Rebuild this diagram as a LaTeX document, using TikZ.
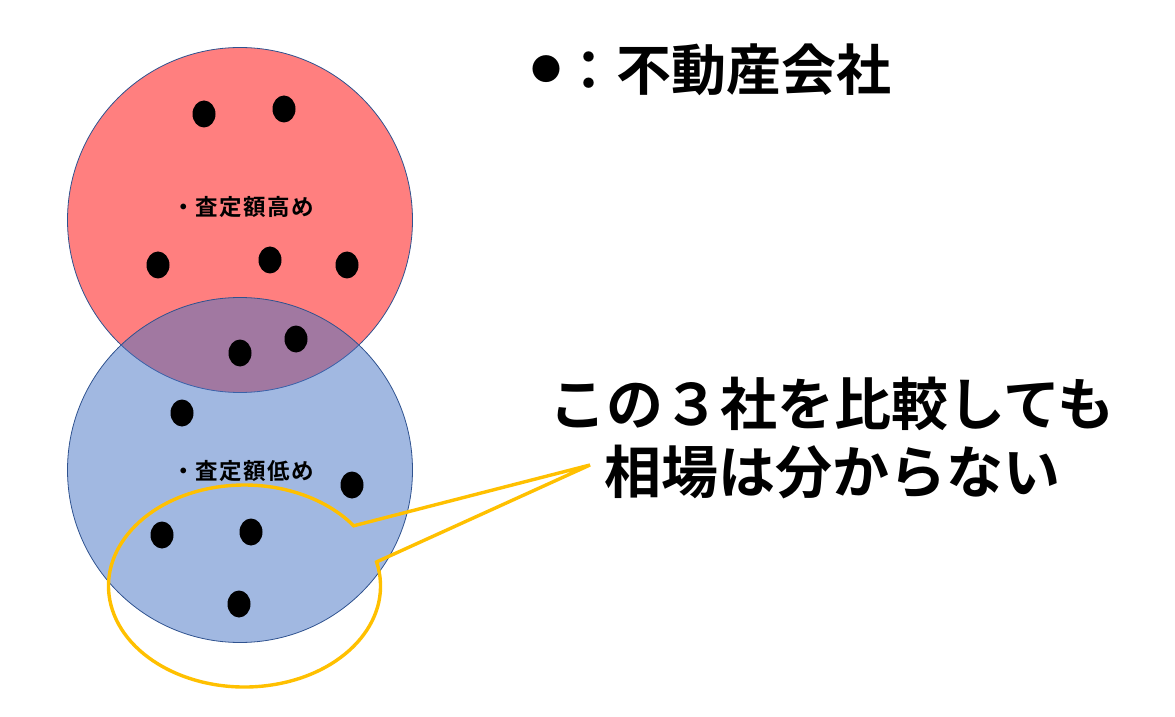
\documentclass[tikz,border=0pt]{standalone}
\usepackage{fontspec}
\newfontfamily\jpb{Noto Sans CJK JP Bold}
\newfontfamily\jplabel{Noto Sans CJK JP Bold}[LetterSpace=6]
\usetikzlibrary{shapes.geometric}
\definecolor{ppblue}{HTML}{4472C4}
\definecolor{ppline}{HTML}{2F528F}
\definecolor{ppgold}{HTML}{FFC000}

\begin{document}
\begin{tikzpicture}[x=1pt, y=1pt,
      area/.style = {shape=circle, draw=ppline, line width=0.8pt,
        fill opacity=0.5, draw opacity=1, minimum size=345pt, inner sep=0pt},
      company/.style = {shape=ellipse, fill=black, minimum width=23pt,
        minimum height=27pt, inner sep=0pt},
      arealabel/.style = {font=\jplabel\fontsize{22.5}{22.5}\selectfont, inner sep=0pt},
      callout/.style = {draw=ppgold, line width=3.4pt, line join=miter}]
  \useasboundingbox (0,0) rectangle (1175,716);
  \node[area, fill=red] (high) at (240,496) {};
  \node[area, fill=ppblue] (low) at (240,246) {};
  \node[arealabel] (highlabel) at (243,509) {・査定額高め};
  \node[arealabel] (lowlabel) at (243,245) {・査定額低め};
  \node[company] (h1) at (204,602) {};
  \node[company] (h2) at (284,607) {};
  \node[company] (h3) at (158,451) {};
  \node[company] (h4) at (270,456) {};
  \node[company] (h5) at (347,451) {};
  \node[company] (m1) at (240,363) {};
  \node[company] (m2) at (296,377) {};
  \node[company] (l1) at (182,303) {};
  \node[company] (l2) at (352,231) {};
  \node[company] (l3) at (162,181) {};
  \node[company] (l4) at (251,184) {};
  \node[company] (l5) at (239,112) {};
  \coordinate (callc) at (244.5,130);
  \coordinate (tip) at (590,251);
  \draw[callout] ([shift={(13.8:136 and 101)}]callc)
    arc[start angle=13.8, end angle=-323.4, x radius=136, y radius=101]
    -- (tip) -- cycle;
  \node[anchor=west, inner sep=0pt, font=\jpb\fontsize{55}{55}\selectfont] (legend) at (531,646)
    {\raisebox{10pt}{\fontsize{30}{30}\selectfont ●}：不動産会社};
  \node[align=center, inner sep=0pt, font=\jpb\fontsize{57}{68}\selectfont] (remark) at (832,278)
    {この３社を比較しても\\相場は分からない};
\end{tikzpicture}
\end{document}
